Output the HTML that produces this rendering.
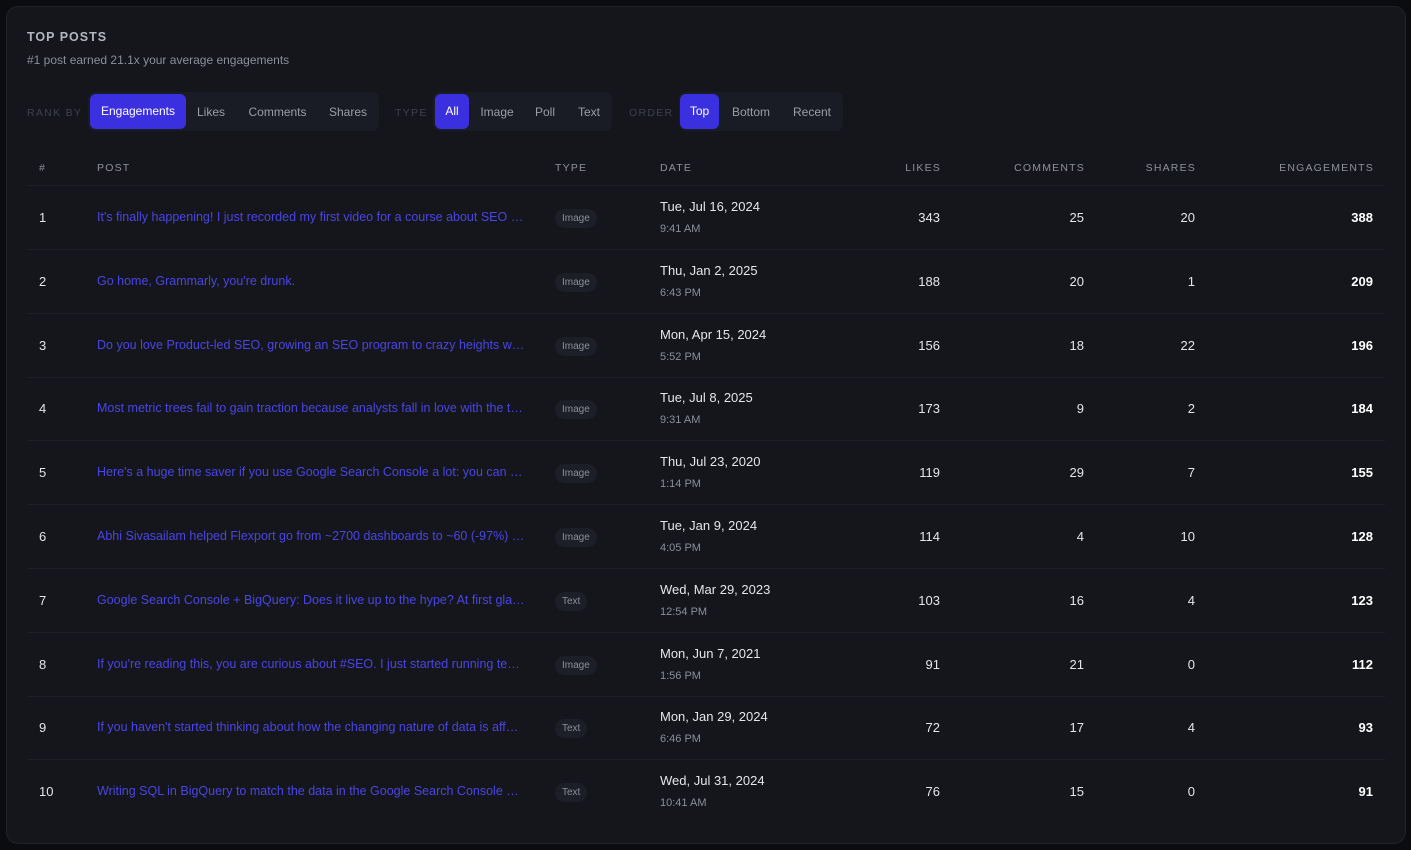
<!DOCTYPE html>
<html><head><meta charset="utf-8"><style>
body{margin:0;width:1411px;height:850px;background:#0b0c0f;font-family:"Liberation Sans",sans-serif;overflow:hidden;position:relative}
.card{position:absolute;left:6px;top:6px;width:1398px;height:836px;background:#14161b;border:1px solid #1f2229;border-radius:12px}
.a{position:absolute;white-space:nowrap}
.title{left:27px;top:30px;font-size:12.5px;letter-spacing:1px;color:#b4b7bf;font-weight:bold}
.sub{left:27px;top:53px;font-size:12px;color:#8b8f98}
.lbl{font-size:10.5px;letter-spacing:1.3px;color:#3d414a;top:107px}
.grp{position:absolute;top:92px;height:39px;background:#1a1c25;border-radius:7px}
.btn{position:absolute;top:3px;height:35px;line-height:35px;font-size:12px;color:#9a9ea8;text-align:center;border-radius:6px}
.btn.on{background:#3b30e0;color:#fff;top:2px}
.hd{top:162px;font-size:10.5px;letter-spacing:1.2px;color:#8d919a}
.line{position:absolute;left:28px;width:1357px;height:1px;background:#1e2128}
.cell{font-size:13px;color:#e4e6ea}
.post{color:#4a45e6;font-size:12.5px;width:430px;overflow:hidden;text-overflow:ellipsis}
.badge{font-size:10px;color:#8b8f98;background:#1c1f27;border-radius:10px;padding:4px 7px}
.time{font-size:11px;color:#8b8f98}
.r{text-align:right}
</style></head><body>
<div class="card"></div>
<div class="a title">TOP POSTS</div>
<div class="a sub">#1 post earned 21.1x your average engagements</div>
<div class="a lbl" style="left:27px">RANK BY</div>
<div class="grp" style="left:88px;width:291px">
<div class="btn on" style="left:2px;width:96px">Engagements</div>
<div class="btn" style="left:102px;width:42px">Likes</div>
<div class="btn" style="left:152px;width:75px">Comments</div>
<div class="btn" style="left:233px;width:54px">Shares</div></div>
<div class="a lbl" style="left:395px">TYPE</div>
<div class="grp" style="left:433px;width:179px">
<div class="btn on" style="left:2px;width:34px">All</div>
<div class="btn" style="left:42px;width:44px">Image</div>
<div class="btn" style="left:96px;width:32px">Poll</div>
<div class="btn" style="left:138px;width:36px">Text</div></div>
<div class="a lbl" style="left:629px">ORDER</div>
<div class="grp" style="left:679px;width:164px">
<div class="btn on" style="left:1px;width:39px">Top</div>
<div class="btn" style="left:47px;width:50px">Bottom</div>
<div class="btn" style="left:107px;width:52px">Recent</div></div>
<div class="a hd" style="left:39px">#</div>
<div class="a hd" style="left:97px">POST</div>
<div class="a hd" style="left:555px">TYPE</div>
<div class="a hd" style="left:660px">DATE</div>
<div class="a hd r" style="right:470px">LIKES</div>
<div class="a hd r" style="right:326px">COMMENTS</div>
<div class="a hd r" style="right:215px">SHARES</div>
<div class="a hd r" style="right:37px">ENGAGEMENTS</div>
<div class="line" style="top:185px"></div>
<script>
const posts=["It's finally happening! I just recorded my first video for a course about SEO and BigQuery","Go home, Grammarly, you're drunk.","Do you love Product-led SEO, growing an SEO program to crazy heights with data","Most metric trees fail to gain traction because analysts fall in love with the tree","Here's a huge time saver if you use Google Search Console a lot: you can now export everything","Abhi Sivasailam helped Flexport go from ~2700 dashboards to ~60 (-97%) in just a few months","Google Search Console + BigQuery: Does it live up to the hype? At first glance","If you're reading this, you are curious about #SEO. I just started running tests on my site","If you haven't started thinking about how the changing nature of data is affecting","Writing SQL in BigQuery to match the data in the Google Search Console UI is harder than it looks"];
const types=["Image","Image","Image","Image","Image","Image","Text","Image","Text","Text"];
const dates=["Tue, Jul 16, 2024","Thu, Jan 2, 2025","Mon, Apr 15, 2024","Tue, Jul 8, 2025","Thu, Jul 23, 2020","Tue, Jan 9, 2024","Wed, Mar 29, 2023","Mon, Jun 7, 2021","Mon, Jan 29, 2024","Wed, Jul 31, 2024"];
const times=["9:41 AM","6:43 PM","5:52 PM","9:31 AM","1:14 PM","4:05 PM","12:54 PM","1:56 PM","6:46 PM","10:41 AM"];
const likes=[343,188,156,173,119,114,103,91,72,76];
const comments=[25,20,18,9,29,4,16,21,17,15];
const shares=[20,1,22,2,7,10,4,0,4,0];
const engagements=[388,209,196,184,155,128,123,112,93,91];
function add(cls,style,text,name,inter){
 const d=document.createElement('div');d.className='a '+cls;d.style.cssText=style;d.textContent=text;
 
 
 document.body.appendChild(d);return d;}
const rowH=63.8, y0=218;
posts.forEach((p,i)=>{
 const cy=y0+i*rowH;
 add('cell','left:39px;top:'+(cy-8)+'px',String(i+1),'row-rank','false');
 add('post','left:97px;top:'+(cy-8)+'px;width:428px',p,'post-link','true');
 add('badge','left:555px;top:'+(cy-9)+'px',types[i],'type-badge','false');
 add('cell','left:660px;top:'+(cy-19)+'px',dates[i],'post-date','false');
 add('time','left:660px;top:'+(cy+5)+'px',times[i],'post-time','false');
 add('cell r','right:471px;top:'+(cy-8)+'px',String(likes[i]),'likes-value','false');
 add('cell r','right:327px;top:'+(cy-8)+'px',String(comments[i]),'comments-value','false');
 add('cell r','right:216px;top:'+(cy-8)+'px',String(shares[i]),'shares-value','false');
 add('cell r','right:38px;top:'+(cy-8)+'px;font-weight:600;color:#fff',String(engagements[i]),'engagements-value','false');
 if(i<posts.length-1){const l=add('line','top:'+Math.round(cy+31)+'px','','row-divider','false');l.className='line';}
});
</script>
</body></html>
